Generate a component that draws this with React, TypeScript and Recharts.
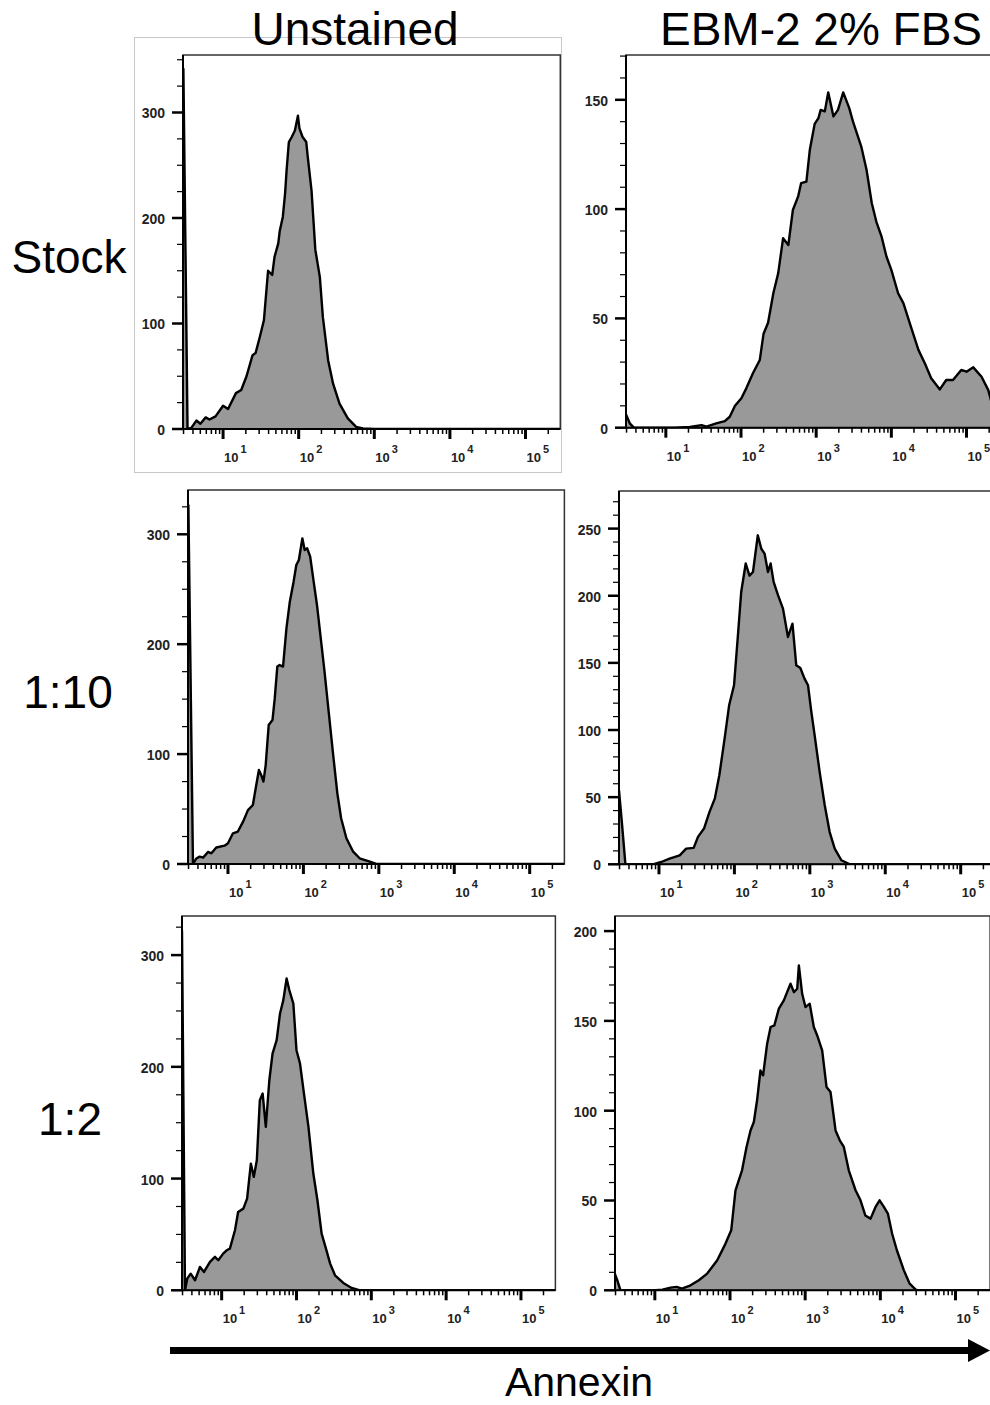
import React from "react"
import { AreaChart, Area, XAxis, YAxis, ReferenceArea } from "recharts"

const FONT = "'Liberation Sans', Arial, sans-serif"

const columnTitles = ["Unstained", "EBM-2 2% FBS"]
const rowTitles = ["Stock", "1:10", "1:2"]
const axisTitle = "Annexin"
const xRange = [0.47, 5.46]

// [log10 Annexin intensity, cell count]
const unstainedStock = [
  [0.475, 342], [0.53, 0], [0.58, 1], [0.647, 8], [0.7, 5], [0.77, 11], [0.82, 9], [0.9, 12],
  [1.0, 22], [1.066, 19], [1.17, 34], [1.24, 37], [1.31, 50], [1.39, 70], [1.43, 72], [1.485, 87],
  [1.54, 103], [1.595, 150], [1.65, 146], [1.68, 163], [1.73, 176], [1.75, 188], [1.79, 201],
  [1.82, 223], [1.84, 245], [1.87, 272], [1.91, 277], [1.95, 283], [1.99, 297], [2.01, 285],
  [2.05, 277], [2.1, 272], [2.12, 258], [2.17, 226], [2.22, 170], [2.28, 144], [2.32, 106],
  [2.39, 65], [2.455, 43], [2.54, 24], [2.65, 10], [2.76, 2], [2.85, 0.5], [3.0, 0], [5.46, 0],
]

const ebmStock = [
  [0.47, 6], [0.52, 2], [0.575, 0], [1.12, 0], [1.32, 0.3], [1.475, 1.2], [1.54, 0.5], [1.67, 2],
  [1.785, 3], [1.85, 5], [1.92, 10], [2.005, 13.5], [2.07, 18], [2.16, 25], [2.25, 31], [2.3, 43],
  [2.36, 48], [2.43, 61.5], [2.495, 70.7], [2.56, 86.7], [2.63, 83.6], [2.69, 99.6], [2.76, 105.8],
  [2.8, 111.9], [2.87, 112.6], [2.915, 127], [2.98, 139], [3.03, 141.6], [3.06, 145.4],
  [3.115, 144.7], [3.16, 153.4], [3.23, 142.4], [3.29, 145.4], [3.36, 153.4], [3.44, 146.2],
  [3.49, 140], [3.6, 128.6], [3.67, 118], [3.74, 102.7], [3.8, 94.3], [3.87, 87.4], [3.935, 78.3],
  [4.0, 72.2], [4.09, 61.5], [4.16, 57], [4.245, 47.8], [4.36, 35.6], [4.445, 29.5], [4.53, 22.6],
  [4.645, 17.5], [4.73, 21.8], [4.82, 21.8], [4.93, 26.4], [5.0, 25.6], [5.09, 27.6], [5.2, 23.3],
  [5.29, 17.2], [5.33, 12], [5.4, 5], [5.46, 2],
]

const unstained1to10 = [
  [0.475, 327], [0.536, 0], [0.58, 5], [0.625, 6.7], [0.67, 5.8], [0.735, 11], [0.78, 9.7],
  [0.845, 15], [0.955, 16.7], [1.0, 18.8], [1.066, 27.9], [1.13, 29.4], [1.2, 38.5], [1.265, 49],
  [1.33, 53.7], [1.375, 71.9], [1.41, 85.5], [1.44, 81], [1.47, 75], [1.5, 90], [1.54, 126.5],
  [1.59, 131], [1.62, 150.7], [1.654, 179.6], [1.685, 181], [1.73, 179.6], [1.775, 214.4],
  [1.82, 238.7], [1.87, 256.9], [1.906, 272], [1.94, 276.6], [1.986, 296.3], [2.017, 285.7],
  [2.05, 287.2], [2.09, 279.6], [2.136, 256.9], [2.18, 235.7], [2.24, 199.3], [2.28, 175],
  [2.335, 138.6], [2.39, 102.2], [2.45, 64.3], [2.5, 41.6], [2.57, 23.4], [2.66, 11.2],
  [2.745, 5.2], [2.88, 2.1], [2.967, 0], [5.46, 0],
]

const ebm1to10 = [
  [0.47, 55], [0.51, 30], [0.555, 0], [0.92, 0], [1.03, 1.7], [1.14, 4.2], [1.275, 6.7],
  [1.36, 11.7], [1.46, 12.2], [1.517, 20.4], [1.597, 26.6], [1.67, 39], [1.74, 48.9], [1.8, 66.3],
  [1.87, 93.6], [1.93, 118.4], [1.995, 133.3], [2.05, 173], [2.09, 202.8], [2.15, 224], [2.2, 215],
  [2.246, 217.7], [2.31, 245], [2.357, 235], [2.4, 231.4], [2.445, 217.7], [2.48, 224],
  [2.52, 210.3], [2.578, 200.4], [2.644, 190.4], [2.71, 169.3], [2.77, 179.2], [2.82, 148.2],
  [2.874, 146.2], [2.93, 138.3], [2.976, 133.3], [3.02, 113.5], [3.064, 96], [3.13, 68.8],
  [3.197, 44.2], [3.263, 24], [3.33, 11.7], [3.418, 3], [3.53, 0], [5.46, 0],
]

const unstained1to2 = [
  [0.47, 322], [0.51, 0], [0.54, 10.4], [0.586, 14.9], [0.644, 9], [0.71, 20.9], [0.764, 16.4],
  [0.844, 25.4], [0.91, 29.9], [0.955, 26.9], [1.02, 32.8], [1.067, 35.8], [1.11, 37.3],
  [1.178, 53.7], [1.22, 70.1], [1.29, 73.1], [1.34, 82], [1.39, 113.4], [1.43, 101.5],
  [1.47, 116.4], [1.51, 170.1], [1.548, 176.1], [1.59, 146.3], [1.637, 188], [1.68, 211.9],
  [1.735, 223.9], [1.78, 247.8], [1.824, 259.7], [1.868, 279.1], [1.904, 268.7], [1.958, 256.7],
  [2.0, 214.9], [2.047, 203], [2.1, 176.1], [2.16, 146.3], [2.225, 104.5], [2.28, 80.6],
  [2.336, 50.7], [2.394, 37.3], [2.45, 23.9], [2.515, 13.4], [2.626, 6.6], [2.737, 2.1],
  [2.85, 0], [5.46, 0],
]

const ebm1to2 = [
  [0.47, 9], [0.5, 5.6], [0.543, 0], [1.01, 0], [1.1, 0.4], [1.21, 1.5], [1.29, 1.9], [1.36, 0.9],
  [1.475, 2.8], [1.585, 5.6], [1.696, 9.3], [1.83, 16.7], [1.94, 26], [2.016, 33.4], [2.073, 55.7],
  [2.16, 66.8], [2.22, 79.8], [2.273, 89], [2.317, 93.7], [2.36, 105.8], [2.405, 122.4],
  [2.44, 119.7], [2.494, 137.3], [2.54, 146.6], [2.59, 147.5], [2.65, 156.8], [2.716, 161.4],
  [2.805, 170.7], [2.85, 166], [2.894, 167.9], [2.916, 180.9], [2.96, 165.1], [3.004, 157.7],
  [3.06, 159.6], [3.115, 146.6], [3.16, 141.9], [3.226, 133.6], [3.284, 113.2], [3.337, 110.4],
  [3.404, 89], [3.46, 83.5], [3.514, 79.8], [3.58, 66.8], [3.67, 55.7], [3.736, 50.1], [3.8, 41.7],
  [3.87, 39.9], [3.936, 46.4], [3.99, 50.1], [4.047, 46.4], [4.1, 42.7], [4.157, 31.5],
  [4.22, 22.3], [4.313, 11.1], [4.39, 3.7], [4.47, 0.4], [4.51, 0], [5.46, 0],
]

// y tick labels per panel
const yLabelsUnstained = [0, 100, 200, 300]
const yLabelsEbmStock = [0, 50, 100, 150]
const yLabelsEbm1to10 = [0, 50, 100, 150, 200, 250]
const yLabelsEbm1to2 = [0, 50, 100, 150, 200]

// plot area boxes in page pixels
const panels = [
  { data: unstainedStock, yMax: 354.5, labels: yLabelsUnstained, step: 25, left: 183.2, right: 560.5, top: 55, bottom: 429 },
  { data: ebmStock, yMax: 170.5, labels: yLabelsEbmStock, step: 10, left: 626.2, right: 1001.3, top: 55, bottom: 427.7 },
  { data: unstained1to10, yMax: 340.3, labels: yLabelsUnstained, step: 25, left: 188.3, right: 564.7, top: 490, bottom: 864 },
  { data: ebm1to10, yMax: 278, labels: yLabelsEbm1to10, step: 10, left: 619.3, right: 995.7, top: 490.7, bottom: 864 },
  { data: unstained1to2, yMax: 335, labels: yLabelsUnstained, step: 25, left: 182, right: 555.4, top: 915.7, bottom: 1290 },
  { data: ebm1to2, yMax: 208.4, labels: yLabelsEbm1to2, step: 10, left: 614.5, right: 989.6, top: 915.7, bottom: 1290 },
]

const xTicks: number[] = []
for (let k = 0; k <= 5; k++) {
  for (let m = 1; m <= 9; m++) {
    const t = k + Math.log10(m)
    if (t >= xRange[0] && t <= xRange[1]) xTicks.push(t)
  }
}

function XTick({ x, y, payload }: any) {
  const major = Number.isInteger(payload.value)
  return (
    <g>
      <line x1={x} x2={x} y1={y} y2={y + (major ? 10 : 5)} stroke="#000" strokeWidth={major ? 3 : 1.5} />
      {major && (
        <text x={x + 1} y={y + 33} fontSize={13} fontWeight="bold" fontFamily={FONT} fill="#222">
          10
          <tspan dx={2} dy={-9} fontSize={11}>{payload.value}</tspan>
        </text>
      )}
    </g>
  )
}

function YTick({ x, y, payload, labels }: any) {
  const major = labels.includes(payload.value)
  return (
    <g>
      <line x1={x - (major ? 11 : 6)} x2={x} y1={y} y2={y} stroke="#000" strokeWidth={major ? 2.5 : 1.2} />
      {major && (
        <text x={x - 18} y={y + 6} textAnchor="end" fontSize={14} fontWeight="bold" fontFamily={FONT} fill="#222">
          {payload.value}
        </text>
      )}
    </g>
  )
}

function Histogram({ data, yMax, labels, step, left, right, top, bottom }: any) {
  const rows = data.map(([e, n]: number[]) => ({ e, n }))
  const yTicks: number[] = []
  for (let v = 0; v <= yMax; v += step) yTicks.push(v)
  const plotW = right - left
  const plotH = bottom - top
  return (
    <div style={{ position: "absolute", left: left - 50, top: top - 5 }}>
      <AreaChart width={plotW + 55} height={plotH + 45} data={rows} margin={{ top: 5, right: 5, left: 0, bottom: 0 }}>
        <XAxis
          type="number"
          dataKey="e"
          domain={xRange}
          allowDataOverflow
          ticks={xTicks}
          interval={0}
          height={40}
          tickSize={0}
          tickMargin={0}
          tickLine={false}
          axisLine={{ stroke: "#000", strokeWidth: 2 }}
          tick={(p: any) => <XTick {...p} />}
        />
        <YAxis
          type="number"
          domain={[0, yMax]}
          allowDataOverflow
          ticks={yTicks}
          interval={0}
          width={50}
          tickSize={0}
          tickMargin={0}
          tickLine={false}
          axisLine={{ stroke: "#000", strokeWidth: 2 }}
          tick={(p: any) => <YTick {...p} labels={labels} />}
        />
        <Area
          type="linear"
          dataKey="n"
          stroke="#000"
          strokeWidth={2.4}
          strokeLinejoin="round"
          fill="#999"
          fillOpacity={1}
          isAnimationActive={false}
          dot={false}
          activeDot={false}
        />
        <ReferenceArea x1={xRange[0]} x2={xRange[1]} y1={0} y2={yMax} fill="none" stroke="#333" strokeWidth={1.5} />
      </AreaChart>
    </div>
  )
}

export default function App() {
  return (
    <div style={{ position: "absolute", left: 0, top: 0, width: 990, height: 1405, overflow: "hidden", background: "#fff" }}>
      <svg width={990} height={1405} style={{ position: "absolute", left: 0, top: 0 }}>
        <rect x={134.5} y={37.5} width={427} height={435} fill="none" stroke="#c8c8c8" strokeWidth={1} />
      </svg>
      {panels.map((p, i) => (
        <Histogram key={i} {...p} />
      ))}
      <svg width={990} height={1405} style={{ position: "absolute", left: 0, top: 0, pointerEvents: "none" }}>
        <g fontFamily={FONT} fill="#000">
          <text x={355} y={45} fontSize={46} textAnchor="middle">{columnTitles[0]}</text>
          <text x={821} y={45} fontSize={46} textAnchor="middle">{columnTitles[1]}</text>
          <text x={69} y={273} fontSize={46} textAnchor="middle">{rowTitles[0]}</text>
          <text x={68} y={708} fontSize={46} textAnchor="middle">{rowTitles[1]}</text>
          <text x={70} y={1135} fontSize={46} textAnchor="middle">{rowTitles[2]}</text>
          <text x={579} y={1396} fontSize={41} textAnchor="middle">{axisTitle}</text>
        </g>
        <rect x={170} y={1347} width={802} height={7} fill="#000" />
        <polygon points="968,1339 990,1350.5 968,1362" fill="#000" />
      </svg>
    </div>
  )
}
